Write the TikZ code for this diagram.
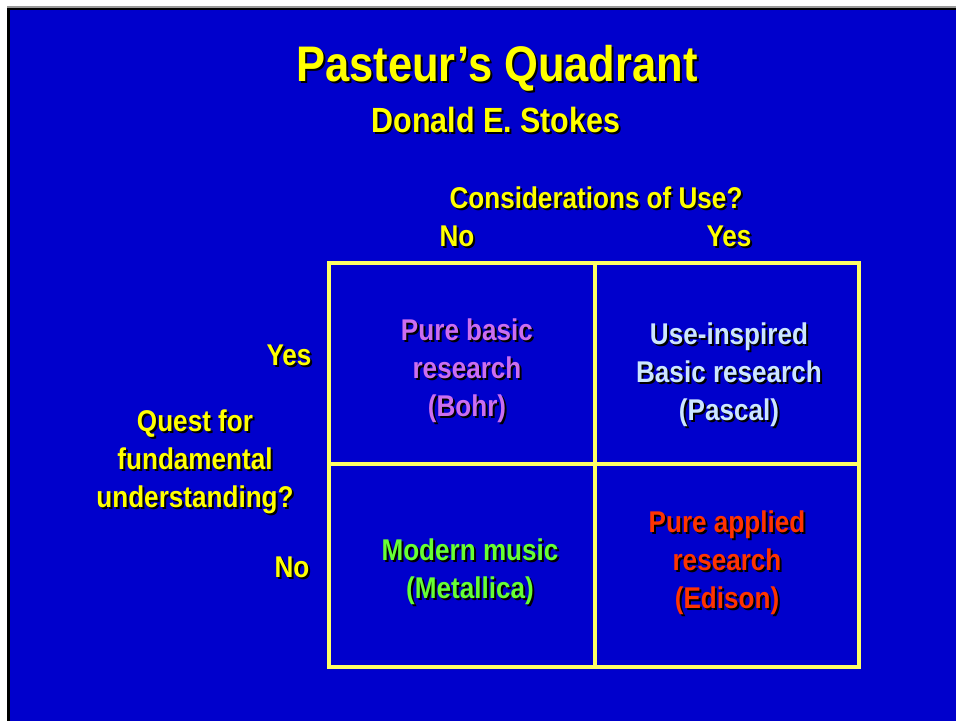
\documentclass[tikz,border=0pt]{standalone}
\usepackage{fontspec}
\setmainfont{Liberation Sans}[FakeStretch=0.87]
\usetikzlibrary{calc}

\definecolor{slideblue}{RGB}{0,0,204}
\definecolor{titleyellow}{RGB}{255,255,0}
\definecolor{gridyellow}{RGB}{255,255,102}
\definecolor{bohrviolet}{RGB}{204,110,240}
\definecolor{pascalblue}{RGB}{204,230,255}
\definecolor{metalgreen}{RGB}{102,255,51}
\definecolor{edisonred}{RGB}{255,51,0}

% text with a black drop shadow: [options]{name}{position}{colour}{text}
\newcommand\shadowlabel[5][]{%
  \node[lbl, #1, text=black] (#2-shadow) at ($(#3)+(2,2)$) {#5};
  \node[lbl, #1, text=#4] (#2) at (#3) {#5};}

\begin{document}
\begin{tikzpicture}[x=1pt, y=-1pt,
  lbl/.style={inner sep=0pt, align=center, font=\bfseries\fontsize{30}{38}\selectfont},
  title/.style={font=\bfseries\fontsize{50}{60}\selectfont},
  subtitle/.style={font=\bfseries\fontsize{35}{42}\selectfont},
  grid/.style={draw=gridyellow, line width=3.5pt}
]
\useasboundingbox (0,0) rectangle (956,721);
% slide background
\fill[white] (0,0) rectangle (956,721);
\fill[black!40] (7,6) rectangle (956,8);
\fill[black] (7,8) rectangle (956,721);
\fill[slideblue] (10,10) rectangle (956,721);

% the quadrant grid
\coordinate (tl) at (329,263);
\coordinate (br) at (859,667);
\coordinate (midtop) at (595,263);
\coordinate (midbot) at (595,667);
\coordinate (midleft) at (329,464);
\coordinate (midright) at (859,464);
\draw[grid] (tl) rectangle (br);
\draw[grid] (midtop) -- (midbot);
\draw[grid] (midleft) -- (midright);

% headings
\shadowlabel[title]{head}{497,68}{titleyellow}{Pasteur’s Quadrant}
\shadowlabel[subtitle]{author}{496,120}{titleyellow}{Donald E. Stokes}
\shadowlabel{use}{596,198}{titleyellow}{Considerations of Use?}
\shadowlabel{useno}{457,236}{titleyellow}{No}
\shadowlabel{useyes}{729,236}{titleyellow}{Yes}
\shadowlabel{questyes}{289,355}{titleyellow}{Yes}
\shadowlabel{questno}{292,567}{titleyellow}{No}
\shadowlabel{quest}{195,462}{titleyellow}{Quest for\\fundamental\\understanding?}

% the four quadrants
\shadowlabel{bohr}{467,371}{bohrviolet}{Pure basic\\research\\(Bohr)}
\shadowlabel{pascal}{729,375}{pascalblue}{Use-inspired\\Basic research\\(Pascal)}
\shadowlabel{metallica}{470,572}{metalgreen}{Modern music\\(Metallica)}
\shadowlabel{edison}{727,563}{edisonred}{Pure applied\\research\\(Edison)}
\end{tikzpicture}
\end{document}
